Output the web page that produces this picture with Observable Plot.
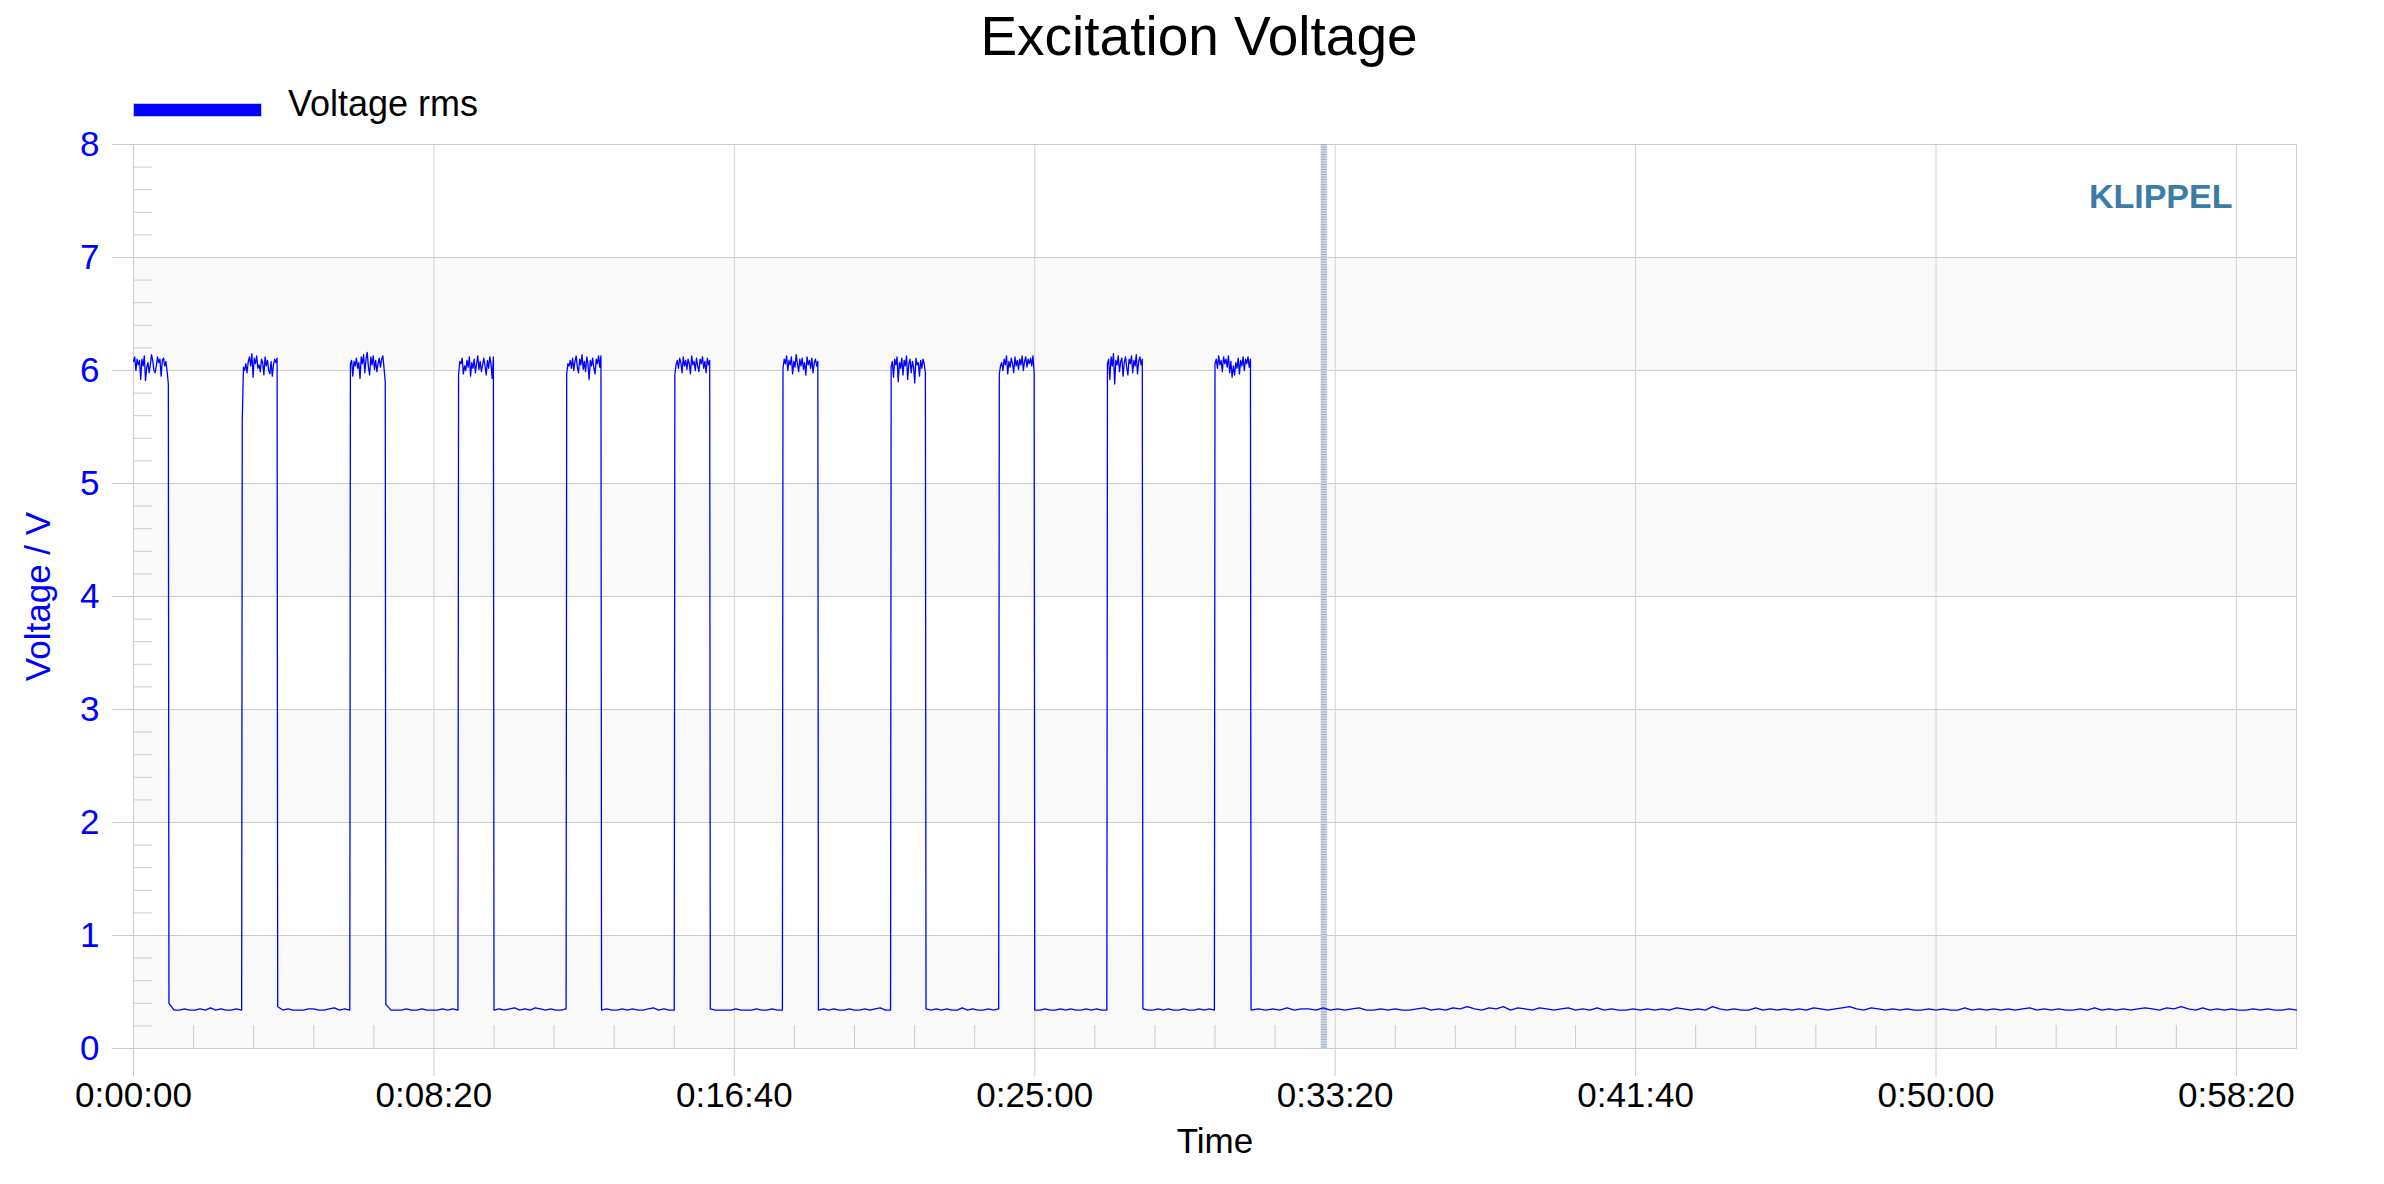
<!DOCTYPE html>
<html>
<head>
<meta charset="utf-8">
<script src="https://cdn.jsdelivr.net/npm/d3@7"></script>
<script src="https://cdn.jsdelivr.net/npm/@observablehq/plot@0.6"></script>
<style>
  html, body { margin: 0; padding: 0; background: #fff; }
  #wrap { position: relative; width: 2384px; height: 1184px; font-family: "Liberation Sans", Arial, sans-serif; }
  #title { position: absolute; left: 0; width: 2398px; top: 9px; text-align: center; font-size: 55px; line-height: 55px; color: #000; }
  #legend-swatch { position: absolute; left: 133px; top: 103px; width: 129px; height: 14px; box-sizing: border-box; background: #0000ff; border: 1px solid #c8c8c8; }
  #legend-text { position: absolute; left: 288px; top: 86px; font-size: 36px; line-height: 36px; color: #000; }
  #chart { position: absolute; left: 0; top: 130px; }
</style>
</head>
<body>
<div id="wrap">
  <div id="title">Excitation Voltage</div>
  <div id="legend-swatch"></div>
  <div id="legend-text">Voltage rms</div>
  <div id="chart"></div>
</div>
<script>
// ---- Data ----
const seriesName = "Voltage rms";
const xTickSeconds = [0, 500, 1000, 1500, 2000, 2500, 3000, 3500];
const yTickValues = [0, 1, 2, 3, 4, 5, 6, 7, 8];
const xDomain = [0, 3600];
const yDomain = [0, 8];
const cursorTime = 1981;

// pulse on/off times in seconds
const pulseRise = [0, 181, 361, 541, 721, 901, 1081, 1261, 1441, 1621, 1800];
const pulseFall = [58, 239, 419, 599, 778, 959, 1139, 1318, 1499, 1679, 1859];

// on-level samples (V) for each pulse
const on1 = [6.08,6.12,6.00,6.10,6.05,6.09,5.92,6.10,6.04,6.13,5.91,6.03,6.07,5.98,6.05,6.14,6.09,6.00,5.98,6.04,6.12,6.07,6.10,5.95,6.09,6.11,6.04,6.08,5.99,5.88];
const on2 = [5.55,6.03,6.00,6.06,5.98,6.08,6.12,6.04,6.15,5.94,6.11,6.06,6.13,6.02,6.05,5.99,6.10,6.07,5.96,6.12,6.04,6.09,6.00,5.97,6.08,5.95,6.05,6.10,6.07,6.11];
const on3 = [6.06,6.09,5.95,6.08,6.04,6.11,6.02,6.07,5.93,6.12,6.06,6.14,5.98,6.10,6.16,6.03,5.96,6.12,6.05,6.13,6.01,6.09,5.99,6.06,6.11,6.03,6.10,6.13,6.02,5.90];
const on4 = [5.96,6.08,6.06,6.11,5.97,6.04,6.00,6.09,6.03,6.12,5.95,6.07,6.02,6.10,5.98,6.06,6.13,6.01,6.08,5.99,6.05,6.11,6.04,5.96,6.09,6.02,6.12,6.06,5.93,6.12];
const on5 = [5.97,6.06,6.04,6.09,6.02,6.11,6.00,6.08,6.13,6.03,5.98,6.10,6.05,6.14,6.01,6.08,5.99,6.12,6.06,5.92,6.09,6.04,6.11,6.02,5.97,6.10,6.06,6.13,6.03,6.13];
const on6 = [5.96,6.05,6.09,6.02,6.11,6.07,5.98,6.12,6.04,6.09,6.01,6.10,6.06,5.97,6.13,6.05,6.08,6.00,6.11,6.04,5.99,6.10,6.06,6.12,6.02,6.08,5.98,6.11,6.05,6.09];
const on7 = [6.02,6.10,6.06,6.13,6.00,6.09,6.05,6.12,5.97,6.08,6.03,6.14,6.06,5.99,6.10,6.04,6.11,6.01,6.07,5.96,6.12,6.05,6.09,6.02,6.11,5.98,6.07,6.10,6.04,6.08];
const on8 = [6.03,6.08,5.94,6.10,6.05,6.12,5.90,6.07,6.02,6.11,5.96,6.09,6.04,6.13,5.92,6.06,6.10,5.98,6.08,6.03,5.89,6.11,6.05,6.07,5.95,6.09,6.02,6.10,6.06,5.98];
const on9 = [5.97,6.04,6.07,6.00,6.10,6.05,6.13,5.97,6.08,6.03,6.11,6.06,5.98,6.12,6.04,6.09,6.01,6.10,6.05,6.13,6.00,6.08,6.12,6.03,6.10,6.06,6.11,6.04,6.13,5.98];
const on10 = [6.06,6.10,5.92,6.12,6.04,6.15,5.88,6.09,6.05,6.13,5.99,6.08,6.11,5.95,6.07,6.12,6.03,5.96,6.10,6.06,6.13,5.98,6.09,6.04,6.14,5.97,6.08,6.12,6.05,6.10];
const on11 = [6.06,6.10,6.02,6.13,6.05,6.09,5.99,6.12,6.06,6.10,6.03,6.13,5.98,6.08,5.94,6.04,5.96,6.07,6.02,6.11,5.97,6.09,6.04,6.12,6.00,6.10,6.06,6.12,6.03,6.10];
const onLevels = [on1, on2, on3, on4, on5, on6, on7, on8, on9, on10, on11];

// off-level samples (V) between pulses
const off1 = [0.40,0.34,0.34,0.35,0.34,0.34,0.35,0.34,0.36,0.34,0.35,0.34,0.34,0.35,0.34];
const off2 = [0.37,0.34,0.35,0.34,0.34,0.34,0.35,0.35,0.34,0.34,0.35,0.36,0.34,0.35,0.34];
const off3 = [0.39,0.34,0.34,0.34,0.35,0.34,0.34,0.35,0.34,0.34,0.34,0.35,0.34,0.35,0.34];
const off4 = [0.34,0.35,0.34,0.35,0.36,0.34,0.35,0.34,0.36,0.35,0.34,0.35,0.34,0.34,0.35];
const off5 = [0.34,0.35,0.34,0.34,0.35,0.34,0.35,0.34,0.34,0.35,0.36,0.34,0.35,0.34,0.34];
const off6 = [0.35,0.34,0.34,0.34,0.34,0.35,0.34,0.34,0.34,0.35,0.34,0.34,0.35,0.34,0.34];
const off7 = [0.34,0.35,0.34,0.35,0.34,0.34,0.35,0.34,0.34,0.35,0.34,0.35,0.36,0.34,0.34];
const off8 = [0.35,0.34,0.35,0.34,0.35,0.34,0.34,0.36,0.34,0.35,0.34,0.34,0.35,0.34,0.35];
const off9 = [0.34,0.34,0.35,0.34,0.34,0.35,0.34,0.35,0.34,0.34,0.35,0.34,0.35,0.34,0.34];
const off10 = [0.35,0.34,0.34,0.35,0.34,0.35,0.34,0.34,0.35,0.34,0.34,0.35,0.34,0.35,0.34];
const offLevels = [off1, off2, off3, off4, off5, off6, off7, off8, off9, off10];

// idle tail after the last pulse
const tailLevels = [
  0.34,0.35,0.34,0.35,0.34,0.36,0.34,0.35,0.35,0.34,0.36,0.34,0.35,0.34,0.35,
  0.36,0.34,0.34,0.35,0.34,0.35,0.34,0.34,0.35,0.36,0.34,0.35,0.34,0.36,0.35,
  0.37,0.35,0.34,0.36,0.35,0.37,0.34,0.36,0.35,0.34,0.36,0.35,0.34,0.35,0.36,
  0.34,0.35,0.34,0.36,0.34,0.35,0.34,0.34,0.35,0.34,0.35,0.34,0.35,0.34,0.36,
  0.35,0.34,0.35,0.34,0.37,0.35,0.34,0.35,0.34,0.34,0.36,0.34,0.35,0.34,0.35,
  0.34,0.35,0.34,0.36,0.35,0.34,0.35,0.36,0.37,0.35,0.34,0.36,0.35,0.34,0.35,
  0.34,0.35,0.34,0.34,0.35,0.34,0.35,0.34,0.34,0.36,0.34,0.35,0.34,0.35,0.34,
  0.35,0.34,0.35,0.36,0.34,0.35,0.34,0.35,0.34,0.34,0.35,0.34,0.36,0.34,0.35,
  0.34,0.35,0.34,0.35,0.36,0.35,0.34,0.36,0.35,0.37,0.35,0.34,0.36,0.34,0.35,
  0.34,0.35,0.34,0.34,0.35,0.34,0.35,0.34,0.34,0.35,0.34
];

// ---- Build the time series ----
const series = [];
for (let k = 0; k < pulseRise.length; k++) {
  const on = onLevels[k];
  const r = pulseRise[k], f = pulseFall[k];
  on.forEach((v, i) => series.push({t: r + i * (f - r) / (on.length - 1), v}));
  const off = k < offLevels.length ? offLevels[k] : tailLevels;
  const a = f + 1, b = k < offLevels.length ? pulseRise[k + 1] - 1 : xDomain[1];
  off.forEach((v, i) => series.push({t: a + i * (b - a) / (off.length - 1), v}));
}

const yMinor = d3.range(0, 8.0001, 0.2).map(d => +d.toFixed(1)).filter(d => !yTickValues.includes(d));
const xMinor = d3.range(0, xDomain[1] + 1, 100).filter(d => d % 500 !== 0);
const bandStarts = yTickValues.filter(d => d % 2 === 0 && d < 8);

const pad = n => String(n).padStart(2, "0");
const fmt = s => `${Math.floor(s / 3600)}:${pad(Math.floor((s % 3600) / 60))}:${pad(s % 60)}`;

const grid = "#cccccc";

const chart = Plot.plot({
  width: 2384,
  height: 1054,
  marginTop: 14,
  marginBottom: 136,
  marginLeft: 133,
  marginRight: 88,
  style: {fontFamily: "'Liberation Sans', Arial, sans-serif", fontSize: "35px", background: "white", overflow: "visible"},
  x: {domain: xDomain, axis: null},
  y: {domain: yDomain, axis: null},
  marks: [
    Plot.rect(bandStarts, {y1: d => d, y2: d => d + 1, fill: "#f9f9f9"}),
    Plot.gridY(yTickValues, {stroke: grid, strokeOpacity: 1}),
    Plot.gridX(xTickSeconds, {stroke: "#d2d2d2", strokeOpacity: 1}),
    Plot.frame({stroke: grid}),
    Plot.axisY(yMinor, {tickSize: -19, tickFormat: () => "", stroke: grid, label: null}),
    Plot.axisX(xMinor, {tickSize: -23, tickFormat: () => "", stroke: grid, label: null}),
    Plot.axisY(yTickValues, {tickSize: 21, tickPadding: 13, stroke: grid, fill: "#0000ff", fontSize: 35,
      tickFormat: d => String(d),
      label: "Voltage / V", labelAnchor: "center", labelOffset: 108, labelArrow: false}),
    Plot.axisX(xTickSeconds, {tickSize: 28, tickPadding: 6, stroke: grid, fill: "#000", fontSize: 35, tickFormat: fmt,
      label: "Time", labelAnchor: "center", labelOffset: 104, labelArrow: false}),
    Plot.ruleX([cursorTime], {stroke: "#d3dbe6", strokeWidth: 6}),
    Plot.ruleX([cursorTime], {stroke: "#9cadc6", strokeWidth: 6, strokeDasharray: "1,1.5"}),
    Plot.line(series, {x: "t", y: "v", stroke: "#0000ff", strokeWidth: 1.3, title: () => seriesName}),
    Plot.text(["KLIPPEL"], {frameAnchor: "top-right", text: d => d, dx: -64, dy: 39, lineAnchor: "top", textAnchor: "end",
      fill: "#3a7ca5", fontWeight: "bold", fontSize: 34})
  ]
});
document.getElementById("chart").appendChild(chart);
</script>
</body>
</html>
